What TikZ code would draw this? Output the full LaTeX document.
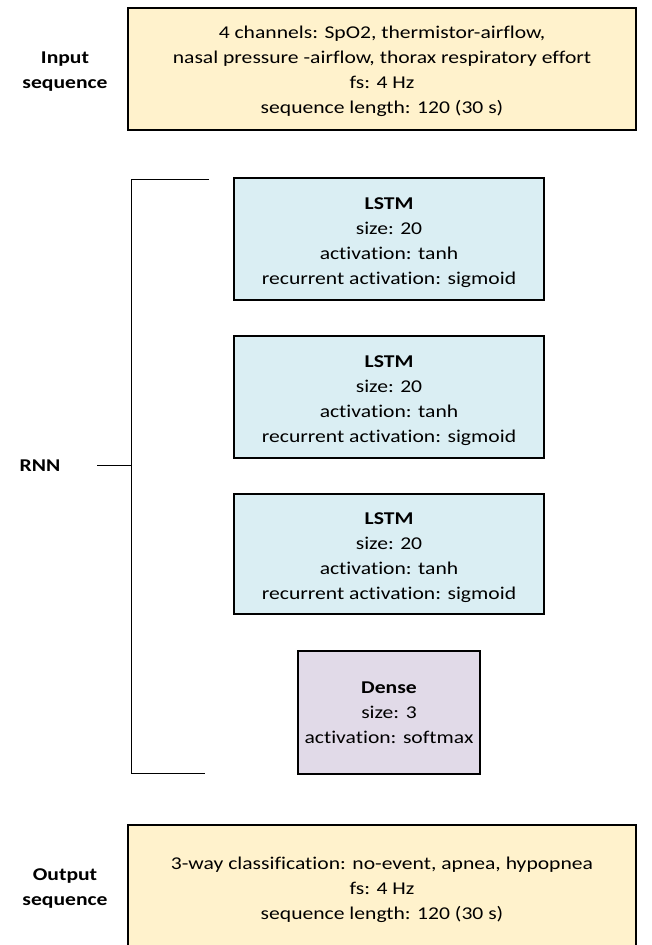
\documentclass[tikz,border=0pt]{standalone}
\usepackage{fontspec}
\setmainfont[FakeStretch=1.2,Ligatures=NoCommon]{Carlito}
\definecolor{inyellow}{HTML}{FFF2CC}
\definecolor{lstmblue}{HTML}{DAEEF3}
\definecolor{denselav}{HTML}{E1DAE8}
\begin{document}
\begin{tikzpicture}[x=1pt,y=-1pt,
  box/.style={draw=black,line width=2.4pt,inner sep=0pt},
  txt/.style={align=center,inner sep=0pt,font=\fontsize{18}{25}\selectfont},
  lbl/.style={align=center,font=\fontsize{18}{25}\selectfont\bfseries},
  brk/.style={draw=black,line width=1pt}]
\useasboundingbox (0,0) rectangle (652,945);
% boxes
\node[box,fill=inyellow,minimum width=508,minimum height=122] (inp) at (382,69) {};
\node[box,fill=lstmblue,minimum width=310,minimum height=122] (l1) at (389,239) {};
\node[box,fill=lstmblue,minimum width=310,minimum height=122] (l2) at (389,397) {};
\node[box,fill=lstmblue,minimum width=310,minimum height=120] (l3) at (389,554) {};
\node[box,fill=denselav,minimum width=182,minimum height=123] (dense) at (389,712.5) {};
\node[box,fill=inyellow,minimum width=508,minimum height=128] (out) at (382,889) {};
% box texts
\node[txt] (inpt) at ([yshift=-2.5pt]inp.center)
  {4 channels: SpO2, thermistor-airflow,\\nasal pressure -airflow, thorax respiratory effort\\fs: 4 Hz\\sequence length: 120 (30 s)};
\node[txt] (l1t) at ([yshift=-3.5pt]l1.center)
  {\textbf{LSTM}\\size: 20\\activation: tanh\\recurrent activation: sigmoid};
\node[txt] (l2t) at ([yshift=-3.5pt]l2.center)
  {\textbf{LSTM}\\size: 20\\activation: tanh\\recurrent activation: sigmoid};
\node[txt] (l3t) at ([yshift=-3.5pt]l3.center)
  {\textbf{LSTM}\\size: 20\\activation: tanh\\recurrent activation: sigmoid};
\node[txt] (denset) at (dense.center)
  {\textbf{Dense}\\size: 3\\activation: softmax};
\node[txt] (outt) at ([yshift=-1pt]out.center)
  {3-way classification: no-event, apnea, hypopnea\\fs: 4 Hz\\sequence length: 120 (30 s)};
% side labels
\node[lbl] (inlbl) at (65,71.5) {Input\\sequence};
\node[lbl] (outlbl) at (65,889) {Output\\sequence};
\node[lbl] (rnn) at (40,466) {RNN};
% bracket
\coordinate (bt) at (209,179);
\coordinate (btl) at (131,179);
\coordinate (bbl) at (131,773);
\coordinate (bb) at (205,773);
\coordinate (bmid) at (131,465);
\coordinate (tick) at (97,465);
\draw[brk] (bt) -- (btl) -- (bbl) -- (bb);
\draw[brk] (tick) -- (bmid);
\end{tikzpicture}
\end{document}
